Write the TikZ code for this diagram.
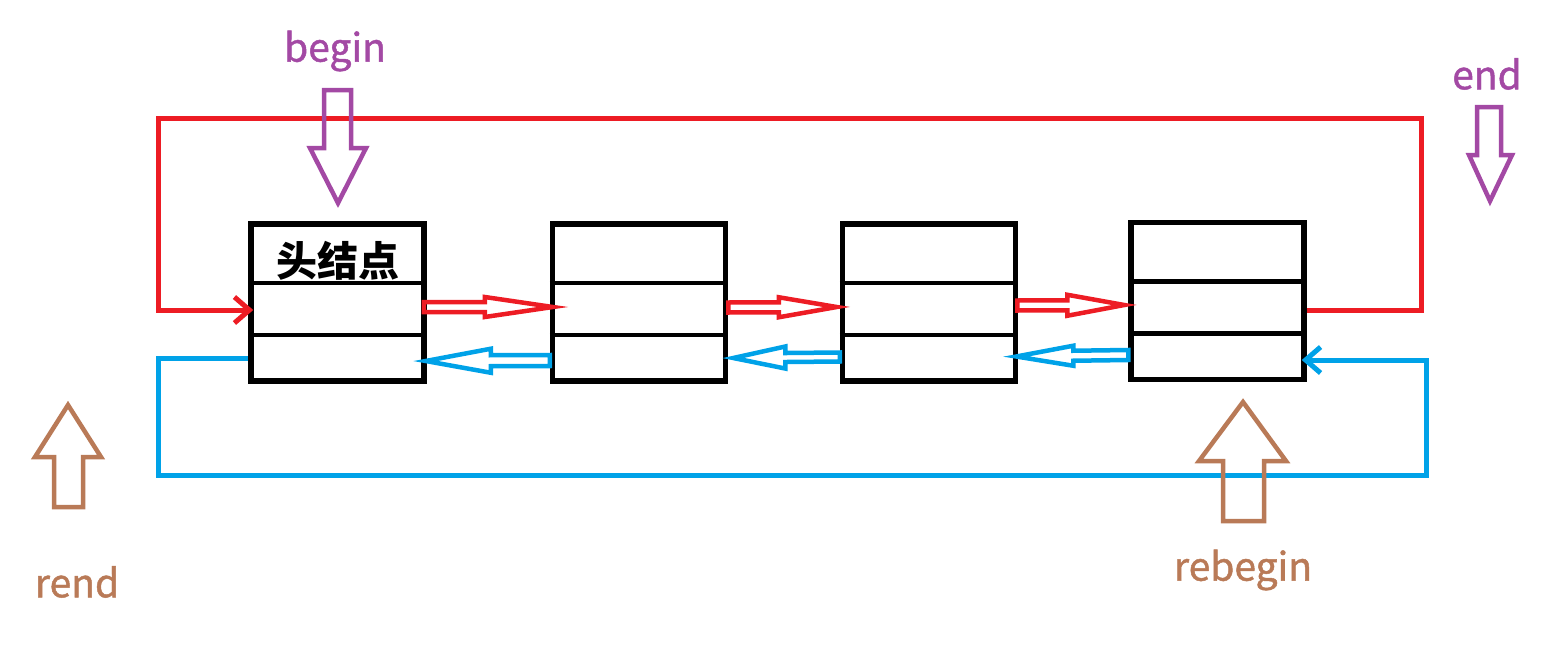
\documentclass[tikz,border=0pt]{standalone}
\usepackage{fontspec}
\newfontfamily\cjk{Noto Sans CJK SC}
\newfontfamily\cjkm{Noto Sans CJK SC}[FakeBold=1.2]
\usetikzlibrary{calc,arrows.meta}
\definecolor{pred}{HTML}{ED1C24}
\definecolor{pblue}{HTML}{00A2E8}
\definecolor{ppurple}{HTML}{A349A4}
\definecolor{pbrown}{HTML}{B97A57}
\newcommand\hollowarrow[6]{%
\draw[#1] ($(#2)+(0pt,#5)$) -- ($(#3)!#4!(#2)+(0pt,#5)$) -- ($(#3)!#4!(#2)+(0pt,#6)$) -- (#3)
 -- ($(#3)!#4!(#2)-(0pt,#6)$) -- ($(#3)!#4!(#2)-(0pt,#5)$) -- ($(#2)-(0pt,#5)$) -- cycle;}
\begin{document}
\begin{tikzpicture}[x=1pt,y=-1pt,
  listbox/.style={draw=black,line width=5.5pt,minimum width=173pt,minimum height=157pt,inner sep=0pt},
  divider/.style={draw=black,line width=4.5pt},
  redloop/.style={draw=pred,line width=5pt},
  blueloop/.style={draw=pblue,line width=5pt},
  hred/.style={draw=pred,line width=4.5pt,line join=miter},
  hblue/.style={draw=pblue,line width=4.5pt,line join=miter},
  bigpurple/.style={draw=ppurple,line width=4.5pt,line join=miter},
  bigbrown/.style={draw=pbrown,line width=4.5pt,line join=miter},
  labtext/.style={font=\cjkm\fontsize{39}{42}\selectfont,inner sep=0pt}
]
\useasboundingbox (0,0) rectangle (1548,651);
% boxes
\node[listbox] (b1) at (337.5,302.5) {};
\node[listbox] (b2) at (639,302.5) {};
\node[listbox] (b3) at (929,302.5) {};
\node[listbox] (b4) at (1217.5,301) {};
\foreach \b in {b1,b2,b3,b4}{
  \draw[divider] ($(\b.north west)!0.38!(\b.south west)$) -- ($(\b.north east)!0.38!(\b.south east)$);
  \draw[divider] ($(\b.north west)!0.70!(\b.south west)$) -- ($(\b.north east)!0.70!(\b.south east)$);
}
\node[font=\cjk\bfseries\fontsize{41}{44}\selectfont,inner sep=0pt] (head) at ($(b1.north)!0.245!(b1.south)$) {头结点};
% red loop
\coordinate (rc1) at (1421,310);
\coordinate (rc2) at (1421,118);
\coordinate (rc3) at (158,118);
\coordinate (rc4) at (158,310);
\draw[redloop,-{Straight Barb[length=15pt,width=26pt,line width=5pt]}] ([yshift=-9pt]b4.east) -- (rc1) -- (rc2) -- (rc3) -- (rc4) -- ([yshift=-7.5pt,xshift=5pt]b1.west);
% blue loop
\coordinate (bc1) at (158,358);
\coordinate (bc2) at (158,475);
\coordinate (bc3) at (1426,475);
\coordinate (bc4) at (1426,360);
\draw[blueloop,-{Straight Barb[length=15pt,width=26pt,line width=5pt]}] ([yshift=-55.5pt]b1.west) -- (bc1) -- (bc2) -- (bc3) -- (bc4) -- ([yshift=-59pt,xshift=-5pt]b4.east);
% hollow arrows between nodes
\coordinate (r12s) at ($(b1.east)+(-3,4.5)$);
\coordinate (r12e) at ($(b2.west)+(3,4.5)$);
\coordinate (r23s) at ($(b2.east)+(0,5)$);
\coordinate (r23e) at ($(b3.west)+(-3,4.5)$);
\coordinate (r34s) at ($(b3.east)+(-1,3)$);
\coordinate (r34e) at ($(b4.west)+(-4,4)$);
\hollowarrow{hred}{r12s}{r12e}{68pt}{5pt}{10pt}
\hollowarrow{hred}{r23s}{r23e}{58pt}{5pt}{10pt}
\hollowarrow{hred}{r34s}{r34e}{57pt}{5pt}{10.5pt}
\coordinate (b21s) at ($(b2.west)+(0,58)$);
\coordinate (b21e) at ($(b1.east)+(-1,58.5)$);
\coordinate (b32s) at ($(b3.west)+(0,54.5)$);
\coordinate (b32e) at ($(b2.east)+(5,55.5)$);
\coordinate (b43s) at ($(b4.west)+(0,54)$);
\coordinate (b43e) at ($(b3.east)+(-2,54)$);
\hollowarrow{hblue}{b21s}{b21e}{65pt}{5.5pt}{12pt}
\hollowarrow{hblue}{b32s}{b32e}{52pt}{4.5pt}{11pt}
\hollowarrow{hblue}{b43s}{b43e}{57pt}{5pt}{10pt}
% pointer labels
\node[labtext,text=ppurple] (lbegin) at (335,51) {begin};
\node[labtext,text=ppurple] (lend) at (1487,74) {end};
\node[labtext,text=pbrown] (lrend) at (77,582) {rend};
\node[labtext,text=pbrown] (lrebegin) at (1243,570) {rebegin};
% big hollow pointer arrows
\draw[bigpurple] (324,90) -- (351,90) -- (351,148) -- (366,148) -- (338,203) -- (310,148) -- (324,148) -- cycle;
\draw[bigpurple] (1477,107) -- (1501,107) -- (1501,155) -- (1512,155) -- (1490,201) -- (1469,155) -- (1477,155) -- cycle;
\draw[bigbrown] (54,507) -- (83,507) -- (83,457) -- (101,457) -- (68,405) -- (35,457) -- (54,457) -- cycle;
\draw[bigbrown] (1223,521) -- (1264,521) -- (1264,461) -- (1286,461) -- (1243,402) -- (1199,461) -- (1223,461) -- cycle;
\end{tikzpicture}
\end{document}
